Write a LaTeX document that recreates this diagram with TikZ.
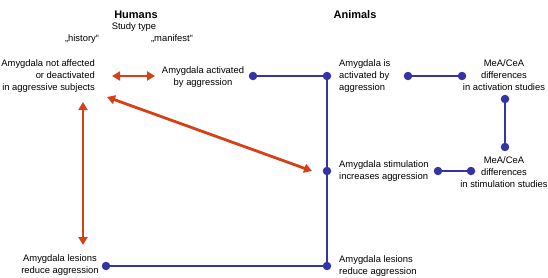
\documentclass[tikz,border=0pt]{standalone}
\usepackage{fontspec}
\setmainfont{Liberation Sans}
\usetikzlibrary{arrows.meta, positioning}
\definecolor{aggred}{RGB}{214, 64, 22}
\definecolor{aggblue}{RGB}{52, 52, 165}
\begin{document}
\begin{tikzpicture}[
    x=1pt, y=-1pt,
    txt/.style={inner sep=0pt, font=\fontsize{9.4}{12}\selectfont, align=center},
    head/.style={inner sep=0pt, font=\fontsize{11}{13}\selectfont\bfseries},
    dot/.style={circle, fill=aggblue, inner sep=0pt, minimum size=8.5pt},
    link/.style={aggblue, line width=2.5pt},
    redarr/.style={{Triangle[length=8pt, width=9pt]}-{Triangle[length=8pt, width=9pt]}, aggred, line width=2.8pt}
  ]
    \useasboundingbox (0,0) rectangle (548,278);
    % headings
    \node[head] (humans) at (136,15) {Humans};
    \node[head] (animals) at (355,15) {Animals};
    \node[txt] (studytype) at (134,27) {Study type};
    \node[txt] (history) at (82,39) {„history“};
    \node[txt] (manifest) at (172,39) {„manifest“};
    % humans
    \node[txt, align=right, anchor=east] (notaff) at (95,76)
      {Amygdala not affected\\or deactivated\\in aggressive subjects};
    \node[txt] (hact) at (203,77) {Amygdala activated\\by aggression};
    \node[txt] (hles) at (60,265) {Amygdala lesions\\reduce aggression};
    % animals
    \node[txt, align=left, anchor=west] (aact) at (339,76)
      {Amygdala is\\activated by\\aggression};
    \node[txt, align=left, anchor=west] (astim) at (339,171)
      {Amygdala stimulation\\increases aggression};
    \node[txt, align=left, anchor=west] (ales) at (339,266)
      {Amygdala lesions\\reduce aggression};
    \node[txt] (meaact) at (504,75) {MeA/CeA\\differences\\in activation studies};
    \node[txt] (meastim) at (504,172) {MeA/CeA\\differences\\in stimulation studies};
    % dots
    \node[dot] (d1) at (253,76) {};
    \node[dot] (d2) at (327,76) {};
    \node[dot] (d3) at (327,171) {};
    \node[dot] (d4) at (327,266) {};
    \node[dot] (d5) at (106,266) {};
    \node[dot] (d6) at (408,76) {};
    \node[dot] (d7) at (462,76) {};
    \node[dot] (d8) at (505,99) {};
    \node[dot] (d9) at (505,147) {};
    \node[dot] (d10) at (438,171) {};
    \node[dot] (d11) at (471,171) {};
    \coordinate (ra1) at (112,76);
    \coordinate (ra2) at (155,76);
    \coordinate (rv1) at (83,102);
    \coordinate (rv2) at (83,245);
    \coordinate (rd1) at (107,97);
    \coordinate (rd2) at (312,171);
    % blue links
    \draw[link] (d1) -- (d2) -- (d3) -- (d4) -- (d5);
    \draw[link] (d6) -- (d7);
    \draw[link] (d8) -- (d9);
    \draw[link] (d10) -- (d11);
    % red arrows
    \draw[redarr] (ra1) -- (ra2);
    \draw[redarr] (rv1) -- (rv2);
    \draw[redarr] (rd1) -- (rd2);
\end{tikzpicture}
\end{document}
